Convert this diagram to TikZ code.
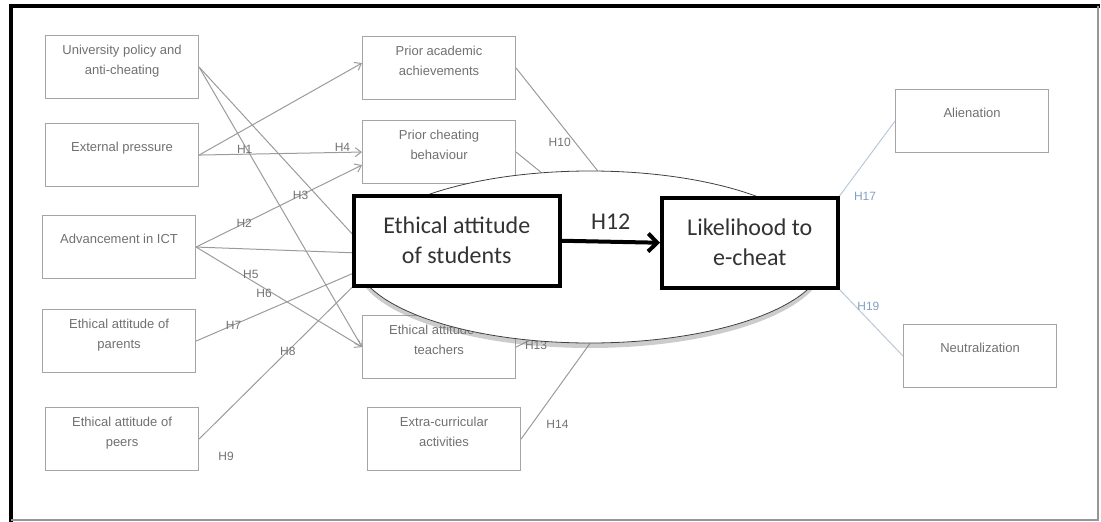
\documentclass[tikz,border=0pt]{standalone}
\usepackage{fontspec}
\setmainfont{Liberation Sans}
\newfontfamily\corefont{Carlito}
\usetikzlibrary{arrows.meta, positioning, shapes.geometric, shadows, backgrounds}
\definecolor{framegray}{RGB}{150,150,150}
\definecolor{boxline}{RGB}{165,165,165}
\definecolor{boxtext}{RGB}{112,112,112}
\definecolor{linkgray}{RGB}{155,155,155}
\definecolor{hyptext}{RGB}{115,115,115}
\definecolor{paleblue}{RGB}{185,200,215}
\definecolor{bluetext}{RGB}{130,160,195}

\begin{document}
\begin{tikzpicture}[x=1pt, y=-1pt,
    factor/.style    = {draw=boxline, line width=1.1pt, minimum width=153pt,
                        minimum height=63pt, anchor=north west, inner sep=0pt},
    factortext/.style = {anchor=north, yshift=-10pt, inner sep=0pt, align=center,
                        text=boxtext, font=\fontsize{13}{20}\selectfont},
    onetext/.style   = {factortext, yshift=-9pt},
    core/.style      = {draw=black, line width=3.5pt, fill=white, anchor=north west,
                        minimum height=90pt, inner sep=0pt, align=center, text=black!80,
                        font=\corefont\fontsize{24}{30}\selectfont},
    link/.style      = {draw=linkgray, line width=1pt},
    hyp/.style       = {link, -{Straight Barb[length=6pt, width=9pt]}},
    bluelink/.style  = {draw=paleblue, line width=1pt},
    hlbl/.style      = {font=\fontsize{12}{13}\selectfont, text=hyptext, inner sep=0.5pt},
    bluelbl/.style   = {hlbl, text=bluetext},
  ]
  \useasboundingbox (0,0) rectangle (1101,522);

  % frame: heavy left and top, light right and bottom
  \draw[line width=4pt] (11,522) -- (11,6) -- (1100,6);
  \draw[framegray, line width=1.2pt] (1098,6) -- (1098,520) -- (11,520);

  % --- antecedents ---
  \node[factor, label={[factortext]north:University policy and\\anti-cheating}] (univ) at (45,35) {};
  \node[factor, label={[onetext]north:External pressure}] (pressure) at (45,123) {};
  \node[factor, label={[onetext]north:Advancement in ICT}] (ict) at (42,215) {};
  \node[factor, label={[factortext]north:Ethical attitude of\\parents}] (parents) at (42,309) {};
  \node[factor, label={[factortext]north:Ethical attitude of\\peers}] (peers) at (45,407) {};

  % --- mediators ---
  \node[factor, label={[factortext]north:Prior academic\\achievements}] (achieve) at (362,36) {};
  \node[factor, label={[factortext]north:Prior cheating\\behaviour}] (prior) at (362,120) {};
  \node[factor, label={[factortext]north:Ethical attitude of\\teachers}] (teachers) at (362,315) {};
  \node[factor, label={[factortext]north:Extra-curricular\\activities}] (extra) at (367,407) {};

  % --- outcomes ---
  \node[factor, label={[onetext]north:Alienation}] (alien) at (895,89) {};
  \node[factor, label={[onetext]north:Neutralization}] (neutral) at (903,324) {};

  % --- core model ---
  \node[ellipse, draw=black!75, line width=0.8pt, fill=white, inner sep=0pt,
        minimum width=470pt, minimum height=172pt,
        drop shadow={shadow xshift=0pt, shadow yshift=-5pt, opacity=0.4}] (halo) at (590,257) {};
  \node[core, minimum width=206pt] (students) at (352,194) {Ethical attitude\\of students};
  \node[core, minimum width=176pt] (likely) at (660,196) {Likelihood to\\e-cheat};
  \draw[line width=4pt, -{Straight Barb[length=9pt, width=18pt]}] (students.east) --
    node[above=7pt, font=\corefont\fontsize{24}{28}\selectfont, text=black!80] {H12} (likely.west);

  % --- hypothesis paths ---
  \begin{scope}[on background layer]
    \draw[link] (univ.east) -- ([yshift=7pt]students.west);
    \draw[hyp] (univ.east) -- (teachers.west);
    \draw[hyp] (pressure.east) -- ([yshift=5pt]achieve.west);
    \draw[hyp] (pressure.east) -- node[hlbl, pos=.28, above] {H1} node[hlbl, pos=.88, above] {H4} (prior.west);
    \draw[hyp] (ict.east) -- node[hlbl, pos=.29] {H2} node[hlbl, pos=.63] {H3} ([yshift=-13pt]prior.west);
    \draw[link] (ict.east) -- ([yshift=-12pt]students.west);
    \draw[hyp] (ict.east) -- node[hlbl, pos=.33, above] {H5} node[hlbl, pos=.41, below] {H6} (teachers.west);
    \draw[link] (parents.east) -- node[hlbl, pos=.24] {H7} ([yshift=-33pt]students.west);
    \draw[link] (peers.east) -- node[hlbl, pos=.58] {H8} node[hlbl, pos=0, xshift=27pt, yshift=-17pt] {H9} (students.south west);
    \draw[link] (achieve.east) -- node[hlbl, pos=.72, left=3pt] {H10} (halo.85);
    \draw[link] (prior.east) -- (halo.120);
    \draw[link] (teachers.east) -- node[hlbl, pos=.3, right=4pt] {H13} (halo.234);
    \draw[link] (extra.east) -- node[hlbl, pos=.15, right=14pt] {H14} (halo.south);
    \draw[bluelink] (likely.north east) -- node[bluelbl, pos=.1, right=8pt, yshift=-8pt] {H17} (alien.west);
    \draw[bluelink] (likely.south east) -- node[bluelbl, pos=.25, right=1pt] {H19} (neutral.west);
  \end{scope}
\end{tikzpicture}
\end{document}
